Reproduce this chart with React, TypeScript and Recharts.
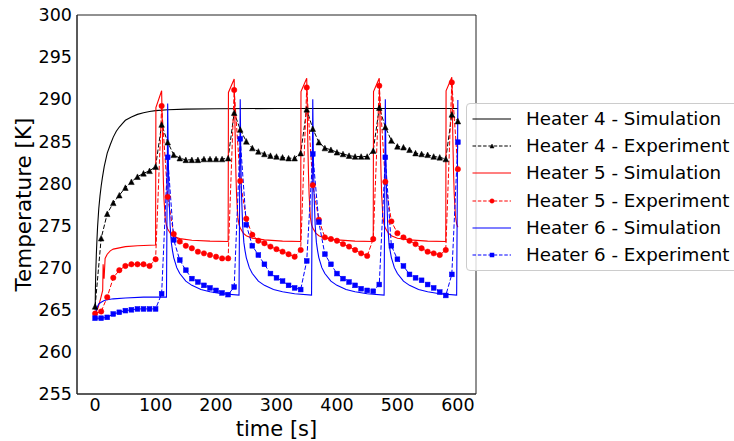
import React from 'react';
import { LineChart, Line, XAxis, YAxis, Label, Legend, ReferenceArea } from 'recharts';

const FONT = '"DejaVu Sans", sans-serif';

// axis ticks
const xTicks = [0, 100, 200, 300, 400, 500, 600];
const yTicks = [255, 260, 265, 270, 275, 280, 285, 290, 295, 300];

const seriesNames = [
  'Heater 4 - Simulation',
  'Heater 4 - Experiment',
  'Heater 5 - Simulation',
  'Heater 5 - Experiment',
  'Heater 6 - Simulation',
  'Heater 6 - Experiment',
];

// experiment sample times [s]
const expTimes = [
  0, 10, 20, 30, 40, 50, 60, 70, 80, 90, 100,
  110, 120, 130, 140, 150, 160, 170, 180, 190, 200, 210, 220,
  230, 240, 250, 260, 270, 280, 290, 300, 310, 320, 330, 340,
  350, 360, 370, 380, 390, 400, 410, 420, 430, 440, 450, 460,
  470, 480, 490, 500, 510, 520, 530, 540, 550, 560, 570, 580,
  590, 600,
];

// measured temperatures [K]
const heater4Exp = [
  265.4, 273.5, 276.4, 277.7, 278.6, 279.5, 280.2, 280.8, 281.2, 281.5, 282.0,
  287.0, 284.9, 283.4, 283.0, 282.8, 282.8, 282.8, 282.9, 282.9, 282.9, 282.9, 283.0,
  288.4, 286.4, 285.0, 284.2, 283.8, 283.5, 283.3, 283.2, 283.1, 283.0, 283.0, 283.6,
  288.8, 286.5, 284.9, 284.2, 284.0, 283.7, 283.5, 283.3, 283.2, 283.2, 283.2, 283.9,
  289.0, 286.7, 285.1, 284.4, 284.3, 284.0, 283.6, 283.5, 283.4, 283.2, 283.1, 282.9,
  288.2, 287.4,
];
const heater5Exp = [
  264.55, 264.8, 266.5, 268.8, 269.7, 270.2, 270.4, 270.4, 270.4, 270.2, 271.0,
  289.2, 278.4, 274.0, 273.1, 272.6, 272.3, 271.9, 271.7, 271.5, 271.3, 271.1, 271.1,
  291.1, 280.3, 275.8, 273.9, 273.2, 272.9, 272.5, 272.2, 271.9, 271.6, 271.3, 272.1,
  291.4, 279.8, 275.7, 273.6, 273.4, 273.2, 272.8, 272.5, 272.1, 271.7, 271.4, 273.4,
  291.6, 280.2, 275.5, 274.1, 273.6, 273.2, 272.8, 272.3, 271.9, 271.7, 271.5, 272.1,
  292.0, 281.7,
];
const heater6Exp = [
  264.0, 264.0, 264.1, 264.5, 264.7, 264.9, 265.0, 265.1, 265.1, 265.1, 265.1,
  266.9, 283.1, 273.3, 270.9, 269.7, 268.7, 268.3, 267.9, 267.6, 267.3, 267.0, 266.8,
  267.7, 285.3, 275.1, 272.6, 271.5, 270.4, 269.3, 268.8, 268.4, 267.9, 267.6, 267.4,
  270.8, 283.5, 275.4, 271.6, 270.4, 269.3, 268.7, 268.3, 267.9, 267.5, 267.3, 267.2,
  268.0, 283.1, 272.6, 271.0, 270.2, 269.2, 268.8, 268.5, 268.0, 267.6, 267.1, 266.7,
  269.2, 284.9,
];

// simulation curves [time s, temperature K]
const heater4Sim: [number, number][] = [
  [0, 265.0], [0.5, 267.5], [1, 269.3], [2, 271.6], [3, 273.3], [4, 274.8], [6, 277.0],
  [8, 278.5], [10, 279.7], [12, 280.7], [15, 282.0], [20, 283.6], [25, 284.6], [30, 285.5],
  [35, 286.2], [40, 286.7], [45, 287.1], [50, 287.5], [60, 287.9], [70, 288.2], [80, 288.4],
  [90, 288.55], [100, 288.65], [120, 288.75], [150, 288.82], [200, 288.87], [300, 288.9],
  [450, 288.9], [600, 288.9],
];
const heater5Sim: [number, number][] = [
  [0, 264.5], [5, 265.3], [9, 266.3], [12.5, 267.3], [13.2, 270.4], [14.8, 268.7], [16.5, 271.1],
  [20, 271.6], [25, 272.0], [30, 272.2], [40, 272.35], [50, 272.5], [70, 272.6], [100, 272.7],
  [100.5, 289.0], [110, 291.0], [111, 287.0], [112, 283.0], [113, 280.0], [114, 278.0], [116, 275.8],
  [118, 275.0], [120, 274.6], [125, 274.0], [130, 273.7], [140, 273.45], [160, 273.25], [190, 273.15], [220, 273.1],
  [220.5, 290.8], [230, 292.4], [231, 288.2], [232, 284.0], [233, 280.8], [234, 278.5], [236, 276.0],
  [238, 275.1], [240, 274.7], [245, 274.1], [250, 273.8], [260, 273.5], [280, 273.3], [310, 273.15], [340, 273.1],
  [340.5, 290.9], [350, 292.5], [351, 288.3], [352, 284.1], [353, 280.9], [354, 278.6], [356, 276.0],
  [358, 275.1], [360, 274.7], [365, 274.1], [370, 273.8], [380, 273.5], [400, 273.3], [430, 273.15], [460, 273.1],
  [460.5, 290.9], [470, 292.5], [471, 288.3], [472, 284.1], [473, 280.9], [474, 278.6], [476, 276.0],
  [478, 275.1], [480, 274.7], [485, 274.1], [490, 273.8], [500, 273.5], [520, 273.3], [550, 273.15], [580, 273.1],
  [580.5, 291.0], [590, 292.6], [591, 288.4], [592, 284.2], [593, 281.0], [594, 278.7], [596, 276.1],
  [598, 275.2], [600, 274.8],
];
const heater6Sim: [number, number][] = [
  [0, 264.3], [1, 264.7], [2, 265.0], [4, 265.4], [6, 265.7], [10, 265.9], [15, 266.1], [20, 266.2],
  [30, 266.3], [50, 266.4], [80, 266.5], [118, 266.5],
  [120, 289.5], [121, 283.0], [122, 279.0], [124, 275.0], [126, 273.0], [128, 272.0], [130, 271.2],
  [135, 270.0], [140, 269.3], [150, 268.4], [160, 267.9], [175, 267.4], [190, 267.15], [210, 266.9], [238, 266.75],
  [240, 290.0], [241, 283.0], [242, 279.0], [244, 275.0], [246, 273.0], [248, 272.0], [250, 271.2],
  [255, 270.0], [260, 269.3], [270, 268.4], [280, 267.9], [295, 267.4], [310, 267.15], [330, 266.9], [358, 266.75],
  [360, 290.0], [361, 283.0], [362, 279.0], [364, 275.0], [366, 273.0], [368, 272.0], [370, 271.2],
  [375, 270.0], [380, 269.3], [390, 268.4], [400, 267.9], [415, 267.4], [430, 267.15], [450, 266.9], [478, 266.75],
  [480, 290.0], [481, 283.0], [482, 279.0], [484, 275.0], [486, 273.0], [488, 272.0], [490, 271.2],
  [495, 270.0], [500, 269.3], [510, 268.4], [520, 267.9], [535, 267.4], [550, 267.15], [570, 266.9], [598, 266.75],
  [600, 289.9],
];

const simData = (pairs: [number, number][]) => pairs.map(([t, v]) => ({ t, v }));
const expData = (values: number[]) => expTimes.map((t, i) => ({ t, v: values[i] }));

const triangle = (cx: number, cy: number, s: number, color: string, key?: any) => (
  <polygon key={key} points={`${cx},${cy - s} ${cx - s},${cy + s} ${cx + s},${cy + s}`} fill={color} stroke={color} strokeWidth={0.5} />
);
const square = (cx: number, cy: number, s: number, color: string, key?: any) => (
  <rect key={key} x={cx - s} y={cy - s} width={2 * s} height={2 * s} fill={color} stroke={color} strokeWidth={0.5} />
);
const circle = (cx: number, cy: number, s: number, color: string, key?: any) => (
  <circle key={key} cx={cx} cy={cy} r={s} fill={color} stroke={color} strokeWidth={0.5} />
);

const makeDot = (shape: typeof circle, size: number, color: string) => (props: any) => {
  const { cx, cy, index } = props;
  if (cx == null || cy == null) return <g key={`d-${index}`} />;
  return shape(cx, cy, size, color, `d-${index}`);
};

const legendRows = [
  { color: '#000000', dashed: false, marker: null },
  { color: '#000000', dashed: true, marker: triangle },
  { color: '#ff0000', dashed: false, marker: null },
  { color: '#ff0000', dashed: true, marker: circle },
  { color: '#0000ff', dashed: false, marker: null },
  { color: '#0000ff', dashed: true, marker: square },
];

const renderLegend = () => (
  <div
    style={{
      width: 290,
      height: 168,
      boxSizing: 'border-box',
      border: '1px solid #cccccc',
      borderRadius: 4,
      background: 'rgba(255,255,255,0.8)',
      fontFamily: FONT,
      fontSize: 18.3,
      position: 'relative',
      color: '#000',
    }}
  >
    {legendRows.map((row, i) => (
      <div
        key={seriesNames[i]}
        style={{ position: 'absolute', left: 0, top: 3 + 27.2 * i, height: 24, display: 'flex', alignItems: 'center' }}
      >
        <svg width={50} height={24} style={{ display: 'block' }}>
          <line x1={5.5} x2={44} y1={12} y2={12} stroke={row.color} strokeWidth={1.1} strokeDasharray={row.dashed ? '3.5 1.8' : undefined} />
          {row.marker ? row.marker(25, 12, row.marker === circle ? 2.2 : 2, row.color) : null}
        </svg>
        <span style={{ marginLeft: 9, whiteSpace: 'nowrap', lineHeight: '24px' }}>{seriesNames[i]}</span>
      </div>
    ))}
  </div>
);

const renderYLabel = () => (
  <text
    x={30.5}
    y={204.5}
    transform="rotate(-90 30.5 204.5)"
    textAnchor="middle"
    fontFamily={FONT}
    fontSize={21.5}
    fill="#000"
  >
    Temperature [K]
  </text>
);

const tickStyle = { fontSize: 17.5, fill: '#000', fontFamily: FONT };

export default function App() {
  return (
    <div style={{ position: 'absolute', left: 0, top: 0, width: 734, height: 441, overflow: 'hidden', background: '#fff' }}>
      <LineChart width={734} height={441} margin={{ top: 15, right: 258, bottom: 0, left: 0 }}>
        <XAxis
          type="number"
          dataKey="t"
          domain={[-30, 630]}
          allowDataOverflow
          ticks={xTicks}
          height={47}
          tickLine={false}
          tickSize={5}
          tickMargin={0}
          tick={tickStyle}
          stroke="#222"
        >
          <Label value="time [s]" position="insideBottom" offset={5} style={{ fontSize: 21, fill: '#000', fontFamily: FONT }} />
        </XAxis>
        <YAxis
          type="number"
          domain={[255, 300]}
          allowDataOverflow
          ticks={yTicks}
          width={77}
          tickLine={false}
          tickSize={5}
          tickMargin={0}
          tick={tickStyle}
          stroke="#222"
        >
          <Label content={renderYLabel} />
        </YAxis>
        <ReferenceArea x1={-30} x2={630} y1={255} y2={300} fill="none" stroke="#222" strokeWidth={1} ifOverflow="visible" />

        <Line data={simData(heater4Sim)} dataKey="v" name={seriesNames[0]} stroke="#000000" strokeWidth={1.1} dot={false} activeDot={false} isAnimationActive={false} />
        <Line data={expData(heater4Exp)} dataKey="v" name={seriesNames[1]} stroke="#000000" strokeWidth={1} strokeDasharray="4.5 2" dot={makeDot(triangle, 2.8, '#000000')} activeDot={false} isAnimationActive={false} />
        <Line data={simData(heater5Sim)} dataKey="v" name={seriesNames[2]} stroke="#ff0000" strokeWidth={1.1} dot={false} activeDot={false} isAnimationActive={false} />
        <Line data={expData(heater5Exp)} dataKey="v" name={seriesNames[3]} stroke="#ff0000" strokeWidth={1} strokeDasharray="4.5 2" dot={makeDot(circle, 2.7, '#ff0000')} activeDot={false} isAnimationActive={false} />
        <Line data={simData(heater6Sim)} dataKey="v" name={seriesNames[4]} stroke="#0000ff" strokeWidth={1.1} dot={false} activeDot={false} isAnimationActive={false} />
        <Line data={expData(heater6Exp)} dataKey="v" name={seriesNames[5]} stroke="#0000ff" strokeWidth={1} strokeDasharray="4.5 2" dot={makeDot(square, 2.4, '#0000ff')} activeDot={false} isAnimationActive={false} />

        <Legend
          layout="vertical"
          align="center"
          verticalAlign="middle"
          content={renderLegend}
          wrapperStyle={{ left: 466, top: 103, width: 290, height: 168 }}
        />
      </LineChart>
    </div>
  );
}
